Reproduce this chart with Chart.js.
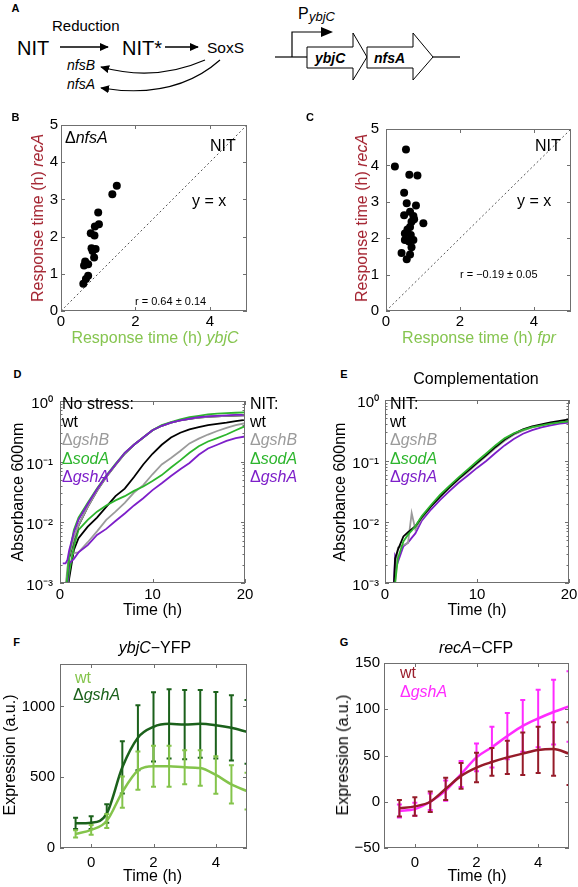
<!DOCTYPE html>
<html>
<head>
<meta charset="utf-8">
<script src="https://cdn.jsdelivr.net/npm/chart.js@4.4.1/dist/chart.umd.min.js"></script>
<style>
  body { margin: 0; width: 578px; height: 887px; background: #fff; position: relative; overflow: hidden;
         font-family: "Liberation Sans", Arial, sans-serif; color: #000; }
  canvas { position: absolute; }
  .t { position: absolute; white-space: nowrap; line-height: 1; font-size: 16px; }
  .c { transform: translate(-50%, -50%); }
  .l { transform: translateY(-50%); }
  .r { transform: translate(-50%, -50%) rotate(-90deg); }
  .k { font-weight: bold; font-size: 11px; }
  .sm { font-size: 11px; }
  .clipbox { position: absolute; overflow: hidden; }
</style>
</head>
<body>

<!-- panel A: schematic -->
<svg width="578" height="110" style="position:absolute;left:0;top:0" font-family="Liberation Sans, Arial, sans-serif">
  <defs>
    <marker id="ah" viewBox="0 0 10 10" refX="9" refY="5" markerWidth="9" markerHeight="9"
            markerUnits="userSpaceOnUse" orient="auto">
      <path d="M0,0.5 L10,5 L0,9.5 z" fill="#000"/>
    </marker>
  </defs>
  <text x="52" y="31" font-size="15">Reduction</text>
  <text x="17" y="55" font-size="20">NIT</text>
  <line x1="60" y1="47" x2="108" y2="47" stroke="#000" stroke-width="1.3" marker-end="url(#ah)"/>
  <text x="122" y="55" font-size="20">NIT*</text>
  <line x1="165" y1="47" x2="198" y2="47" stroke="#000" stroke-width="1.3" marker-end="url(#ah)"/>
  <text x="207" y="53" font-size="15.5">SoxS</text>
  <text x="67" y="70" font-size="14" font-style="italic">nfsB</text>
  <text x="67" y="89" font-size="14" font-style="italic">nfsA</text>
  <path d="M205,60 Q155,82 101,67" fill="none" stroke="#000" stroke-width="1.2" marker-end="url(#ah)"/>
  <path d="M220,60 Q175,100 101,88" fill="none" stroke="#000" stroke-width="1.2" marker-end="url(#ah)"/>

  <line x1="275" y1="57" x2="307" y2="57" stroke="#000" stroke-width="1.2"/>
  <line x1="433" y1="57" x2="460" y2="57" stroke="#000" stroke-width="1.2"/>
  <polyline points="292,57 292,32 322,32" fill="none" stroke="#000" stroke-width="1.2"/>
  <polygon points="321,27 333,32 321,37" fill="#000"/>
  <text x="298" y="19" font-size="16">P</text>
  <text x="309" y="21" font-size="13" font-style="italic">ybjC</text>
  <polygon points="307,47 353,47 353,33 367,57 353,80 353,68 307,68" fill="#fff" stroke="#000" stroke-width="1"/>
  <polygon points="367,47 413,47 413,33 433,57 413,80 413,68 367,68" fill="#fff" stroke="#000" stroke-width="1"/>
  <text x="315" y="63" font-size="14" font-style="italic" font-weight="bold">ybjC</text>
  <text x="374" y="63" font-size="14" font-style="italic" font-weight="bold">nfsA</text>
</svg>

<canvas id="chartB"></canvas>
<canvas id="chartC"></canvas>
<canvas id="chartD"></canvas>
<canvas id="chartE"></canvas>
<canvas id="chartF"></canvas>
<canvas id="chartG"></canvas>

<!-- panel letters -->
<div class="t c k" style="left:15.5px;top:8px">A</div>
<div class="t c k" style="left:15.5px;top:116.5px">B</div>
<div class="t c k" style="left:310px;top:116.5px">C</div>
<div class="t c k" style="left:17.5px;top:374px">D</div>
<div class="t c k" style="left:344px;top:374px">E</div>
<div class="t c k" style="left:16.5px;top:641.5px">F</div>
<div class="t c k" style="left:344px;top:641.5px">G</div>

<!-- B -->
<div class="t l" style="left:65px;top:137.5px">Δ<i>nfsA</i></div>
<div class="t l" style="left:210px;top:146px">NIT</div>
<div class="t l" style="left:192px;top:201px">y = x</div>
<div class="t l sm" style="left:135px;top:301px">r = 0.64 ± 0.14</div>
<div class="t c" style="left:155px;top:338px;color:#86c550">Response time (h) <i>ybjC</i></div>
<div class="t r" style="left:38px;top:218px;color:#a3222f">Response time (h) <i>recA</i></div>

<!-- C -->
<div class="t l" style="left:535px;top:146px">NIT</div>
<div class="t l" style="left:517px;top:201px">y = x</div>
<div class="t l sm" style="left:460px;top:274px">r = −0.19 ± 0.05</div>
<div class="t c" style="left:479px;top:338px;color:#86c550">Response time (h) <i>fpr</i></div>
<div class="t r" style="left:362px;top:218px;color:#a3222f">Response time (h) <i>recA</i></div>

<!-- D -->
<div class="t l" style="left:62px;top:404px">No stress:</div>
<div class="t l" style="left:62px;top:422px">wt</div>
<div class="t l" style="left:62px;top:440px;color:#9b9b9b">Δ<i>gshB</i></div>
<div class="t l" style="left:62px;top:458.5px;color:#2db52d">Δ<i>sodA</i></div>
<div class="t l" style="left:62px;top:477px;color:#7d1fc9">Δ<i>gshA</i></div>
<div class="clipbox" style="left:250px;top:390px;width:47px;height:100px">
  <div class="t l" style="left:0;top:14px">NIT:</div>
  <div class="t l" style="left:0;top:32px">wt</div>
  <div class="t l" style="left:0;top:50px;color:#9b9b9b">Δ<i>gshB</i></div>
  <div class="t l" style="left:0;top:68.5px;color:#2db52d">Δ<i>sodA</i></div>
  <div class="t l" style="left:0;top:87px;color:#7d1fc9">Δ<i>gshA</i></div>
</div>
<div class="t r" style="left:18px;top:492px">Absorbance 600nm</div>
<div class="t c" style="left:152.5px;top:609.5px">Time (h)</div>

<!-- E -->
<div class="t c" style="left:476px;top:379px">Complementation</div>
<div class="t l" style="left:390px;top:404px">NIT:</div>
<div class="t l" style="left:390px;top:422px">wt</div>
<div class="t l" style="left:390px;top:440px;color:#9b9b9b">Δ<i>gshB</i></div>
<div class="t l" style="left:390px;top:458.5px;color:#2db52d">Δ<i>sodA</i></div>
<div class="t l" style="left:390px;top:477px;color:#7d1fc9">Δ<i>gshA</i></div>
<div class="t r" style="left:340px;top:492px">Absorbance 600nm</div>
<div class="t c" style="left:477px;top:609.5px">Time (h)</div>

<!-- F -->
<div class="t c" style="left:155px;top:648px"><i>ybjC</i>−YFP</div>
<div class="t l" style="left:75px;top:677.5px;color:#84c44b">wt</div>
<div class="t l" style="left:73px;top:695px;color:#1b611b">Δ<i>gshA</i></div>
<div class="t r" style="left:10px;top:755px">Expression (a.u.)</div>
<div class="t c" style="left:152.5px;top:876px">Time (h)</div>

<!-- G -->
<div class="t c" style="left:476px;top:648px"><i>recA</i>−CFP</div>
<div class="t l" style="left:400px;top:673px;color:#9a1d2b">wt</div>
<div class="t l" style="left:400px;top:692px;color:#ff2bff">Δ<i>gshA</i></div>
<div class="t r" style="left:342.5px;top:755px">Expression (a.u.)</div>
<div class="t c" style="left:477px;top:876px">Time (h)</div>

<script>
// ---------- data ----------
// B: ΔnfsA, response times (h)
const nfsAYbjC = [1.50, 1.38, 1.00, 1.02, 0.91, 0.80, 0.90, 0.82, 0.93, 0.85, 0.89, 0.65, 0.73, 0.62, 0.73, 0.67, 0.60];
const nfsARecA = [3.37, 3.14, 2.65, 2.33, 2.27, 2.09, 2.03, 1.69, 1.67, 1.61, 1.44, 1.33, 1.26, 1.22, 0.95, 0.86, 0.73];
// C: fpr vs recA
const fprTime  = [0.54, 0.24, 0.63, 0.85, 0.49, 0.56, 0.81, 0.65, 0.49, 0.74, 0.76, 0.69, 1.01, 0.65, 0.58, 0.51, 0.67, 0.51, 0.74, 0.62, 0.69, 0.42, 0.65, 0.56];
const fprRecA  = [4.44, 3.97, 3.74, 3.72, 3.25, 2.96, 2.90, 2.73, 2.63, 2.61, 2.52, 2.45, 2.41, 2.31, 2.24, 2.13, 2.09, 1.95, 1.95, 1.91, 1.75, 1.59, 1.55, 1.42];
const diagLine = [0, 5];
const respYTicks = [0, 1, 2, 3, 4, 5];
const respXTicks = [0, 2, 4];

// D: growth curves, absorbance 600nm
const tD = [0.3, 0.6, 0.8, 1, 1.5, 2, 3, 4, 5, 6, 7, 8, 9, 10, 11, 12, 13, 14, 15, 16, 17, 18, 19, 20];
const noStressWt   = [0.0005, 0.0007, 0.0013, 0.0026, 0.0052, 0.0088, 0.018, 0.033, 0.056, 0.088, 0.135, 0.19, 0.25, 0.33, 0.39, 0.44, 0.48, 0.51, 0.53, 0.55, 0.56, 0.57, 0.575, 0.58];
const noStressGshB = [0.0005, 0.0008, 0.0015, 0.0028, 0.0055, 0.009, 0.018, 0.033, 0.056, 0.088, 0.135, 0.19, 0.25, 0.33, 0.39, 0.44, 0.48, 0.51, 0.53, 0.55, 0.56, 0.57, 0.58, 0.58];
const noStressSodA = [0.0005, 0.0007, 0.0013, 0.003, 0.0075, 0.012, 0.021, 0.036, 0.059, 0.092, 0.14, 0.19, 0.25, 0.33, 0.4, 0.45, 0.5, 0.54, 0.57, 0.6, 0.62, 0.63, 0.64, 0.65];
const noStressGshA = [0.0021, 0.0021, 0.0024, 0.0035, 0.0068, 0.011, 0.02, 0.035, 0.058, 0.09, 0.14, 0.19, 0.25, 0.33, 0.39, 0.44, 0.48, 0.51, 0.54, 0.56, 0.57, 0.58, 0.59, 0.59];
const nitWt   = [0.0004, 0.0005, 0.0007, 0.0012, 0.0035, 0.0055, 0.0085, 0.012, 0.018, 0.027, 0.036, 0.056, 0.09, 0.135, 0.19, 0.25, 0.3, 0.34, 0.37, 0.4, 0.42, 0.44, 0.465, 0.49];
const nitGshB = [0.0004, 0.0008, 0.0018, 0.0028, 0.0031, 0.0032, 0.0047, 0.0071, 0.011, 0.015, 0.021, 0.031, 0.041, 0.062, 0.09, 0.115, 0.15, 0.2, 0.24, 0.28, 0.32, 0.36, 0.4, 0.43];
const nitSodA = [0.0004, 0.0005, 0.0008, 0.0015, 0.004, 0.0075, 0.011, 0.015, 0.019, 0.023, 0.027, 0.033, 0.039, 0.048, 0.06, 0.08, 0.105, 0.14, 0.18, 0.215, 0.245, 0.28, 0.33, 0.385];
const nitGshA = [0.0004, 0.0005, 0.0009, 0.0021, 0.0025, 0.0032, 0.0042, 0.0062, 0.0078, 0.0105, 0.014, 0.019, 0.025, 0.034, 0.044, 0.058, 0.075, 0.095, 0.13, 0.165, 0.19, 0.22, 0.245, 0.26];

// E: complementation under NIT
const tE = [0.9, 1.1, 1.4, 2, 2.5, 2.9, 3.3, 4, 5, 6, 7, 8, 9, 10, 11, 12, 13, 14, 15, 16, 17, 18, 19, 20];
const compWt   = [0.0005, 0.0025, 0.0035, 0.0058, 0.0068, 0.0076, 0.0085, 0.012, 0.018, 0.026, 0.037, 0.051, 0.069, 0.093, 0.125, 0.17, 0.225, 0.28, 0.33, 0.37, 0.4, 0.43, 0.455, 0.48];
const compGshB = [0.0004, 0.001, 0.0038, 0.0042, 0.0045, 0.014, 0.0075, 0.0115, 0.018, 0.026, 0.036, 0.05, 0.066, 0.09, 0.12, 0.163, 0.215, 0.27, 0.315, 0.355, 0.385, 0.41, 0.435, 0.455];
const compSodA = [0.0004, 0.001, 0.0025, 0.0048, 0.0062, 0.0072, 0.0085, 0.0125, 0.019, 0.028, 0.039, 0.054, 0.073, 0.099, 0.133, 0.18, 0.235, 0.285, 0.325, 0.36, 0.385, 0.41, 0.43, 0.445];
const compGshA = [0.0006, 0.0028, 0.0022, 0.004, 0.0046, 0.0055, 0.0065, 0.0105, 0.016, 0.023, 0.032, 0.044, 0.058, 0.077, 0.1, 0.135, 0.18, 0.23, 0.28, 0.32, 0.355, 0.385, 0.41, 0.425];
const logTicks = [0.001, 0.01, 0.1, 1];
const logLabels = ['10⁻³', '10⁻²', '10⁻¹', '10⁰'];
const growthXTicks = [0, 10, 20];

// F, G: reporter expression (a.u.)
const tExpr = [-0.5, 0, 0.5, 1, 1.5, 2, 2.5, 3, 3.5, 4, 4.5, 5];
const ybjcWt      = [100, 128, 191, 395, 547, 577, 577, 570, 565, 516, 449, 402];
const ybjcWtErr   = [25, 35, 50, 110, 135, 145, 145, 120, 125, 133, 135, 130];
const ybjcGshA    = [174, 179, 244, 570, 779, 856, 877, 872, 877, 867, 849, 821];
const ybjcGshAErr = [40, 45, 65, 185, 230, 245, 245, 245, 240, 235, 230, 225];
const recaWt      = [-7, -5, 0, 14, 28, 37, 43, 48, 52, 56, 57, 52];
const recaWtErr   = [9, 10, 11, 12, 14, 16, 15, 18, 23, 25, 29, 34];
const recaGshA    = [-10, -8, 0, 12, 30, 48, 59, 71, 82, 90, 97, 103];
const recaGshAErr = [7, 7, 9, 11, 14, 15, 22, 25, 28, 31, 35, 38];
const exprXTicks = [0, 2, 4];
const ybjcYTicks = [0, 500, 1000];
const recaYTicks = [-50, 0, 50, 100, 150];

// ---------- helpers ----------
const FONT = '"Liberation Sans", Arial, sans-serif';
const PAD = 12;
const C = {
  black: '#000000', grey: '#9b9b9b', green: '#2db52d', purple: '#7d1fc9',
  light: '#84c44b', dark: '#1b611b', maroon: '#961b29', magenta: '#ff2bff'
};

const xy = (xs, ys) => xs.map((x, i) => ({ x, y: ys[i] }));
const num = v => v < 0 ? '−' + (-v) : String(v);

// box outline with inward ticks on all four sides (matlab style)
const boxFrame = {
  id: 'boxFrame',
  afterDatasetsDraw(chart) {
    const { ctx, chartArea: a, scales } = chart;
    ctx.save();
    ctx.strokeStyle = '#6f6f6f';
    ctx.lineWidth = 1;
    ctx.strokeRect(a.left + 0.5, a.top + 0.5, a.right - a.left - 1, a.bottom - a.top - 1);
    ctx.beginPath();
    scales.x.ticks.forEach(t => {
      const p = Math.round(scales.x.getPixelForValue(t.value)) + 0.5;
      ctx.moveTo(p, a.bottom); ctx.lineTo(p, a.bottom - 4);
      ctx.moveTo(p, a.top); ctx.lineTo(p, a.top + 4);
    });
    const yt = scales.y.ticks.map(t => ({ v: t.value, len: 4 }));
    if (scales.y.type === 'logarithmic') {
      logTicks.slice(0, -1).forEach(d => {
        for (let m = 2; m < 10; m++) yt.push({ v: d * m, len: 2.5 });
      });
    }
    yt.forEach(t => {
      const p = Math.round(scales.y.getPixelForValue(t.v)) + 0.5;
      ctx.moveTo(a.left, p); ctx.lineTo(a.left + t.len, p);
      ctx.moveTo(a.right, p); ctx.lineTo(a.right - t.len, p);
    });
    ctx.stroke();
    ctx.restore();
  }
};

// vertical error bars with small caps
const errorBars = {
  id: 'errorBars',
  afterDatasetDraw(chart, args) {
    const ds = chart.data.datasets[args.index];
    if (!ds.errs) return;
    const { ctx, chartArea: a } = chart;
    const ys = chart.scales.y;
    ctx.save();
    ctx.beginPath();
    ctx.rect(a.left, a.top, a.right - a.left, a.bottom - a.top);
    ctx.clip();
    ctx.strokeStyle = ds.borderColor;
    ctx.lineWidth = 2;
    ctx.beginPath();
    args.meta.data.forEach((pt, j) => {
      const v = ds.data[j].y, e = ds.errs[j];
      const top = ys.getPixelForValue(v + e), bot = ys.getPixelForValue(v - e);
      ctx.moveTo(pt.x, top); ctx.lineTo(pt.x, bot);
      ctx.moveTo(pt.x - 2.5, top); ctx.lineTo(pt.x + 2.5, top);
      ctx.moveTo(pt.x - 2.5, bot); ctx.lineTo(pt.x + 2.5, bot);
    });
    ctx.stroke();
    ctx.restore();
  }
};

function axis(min, max, ticks, padding, extra) {
  return Object.assign({
    type: 'linear', min, max,
    grid: { display: false, drawTicks: false },
    border: { display: false },
    afterBuildTicks: s => { s.ticks = ticks.map(v => ({ value: v })); },
    ticks: {
      color: '#000', font: { size: 15, family: FONT }, padding,
      maxRotation: 0, autoSkip: false, callback: v => num(v)
    }
  }, extra || {});
}

function makeChart(id, plot, yw, xh, type, datasets, scales, plugins) {
  const cv = document.getElementById(id);
  cv.width = plot.w + yw + PAD;
  cv.height = plot.h + PAD + xh;
  cv.style.left = (plot.l - yw) + 'px';
  cv.style.top = (plot.t - PAD) + 'px';
  scales.y.afterFit = s => { s.width = yw; };
  scales.x.afterFit = s => { s.height = xh; };
  return new Chart(cv, {
    type,
    data: { datasets },
    options: {
      responsive: false, animation: false, devicePixelRatio: 1,
      layout: { padding: { top: PAD, right: PAD, left: 0, bottom: 0 } },
      plugins: { legend: { display: false }, tooltip: { enabled: false } },
      scales
    },
    plugins: [boxFrame, errorBars].concat(plugins || [])
  });
}

// ---------- B & C: scatter ----------
function scatterSets(xs, ys) {
  return [
    { data: xy(xs, ys), backgroundColor: '#000', borderColor: '#000', pointRadius: 4, pointBorderWidth: 0 },
    { data: xy(diagLine, diagLine), showLine: true, borderColor: '#555', borderWidth: 1,
      borderDash: [2, 2.5], pointRadius: 0 }
  ];
}
makeChart('chartB', { l: 61, t: 125, w: 186, h: 186 }, 58, 22, 'scatter',
  scatterSets(nfsAYbjC, nfsARecA),
  { x: axis(0, 5, respXTicks, 2), y: axis(0, 5, respYTicks, 3) });
makeChart('chartC', { l: 386, t: 125, w: 185, h: 186 }, 50, 22, 'scatter',
  scatterSets(fprTime, fprRecA),
  { x: axis(0, 5, respXTicks, 2), y: axis(0, 5, respYTicks, 7) });

// ---------- D & E: growth curves ----------
function growth(ts, ys, color) {
  return { data: xy(ts, ys), borderColor: color, borderWidth: 1.8, pointRadius: 0, tension: 0, fill: false };
}
function logAxis(padding) {
  const a = axis(0.001, 1, logTicks, padding);
  a.type = 'logarithmic';
  a.ticks.callback = v => logLabels[logTicks.indexOf(v)];
  a.ticks.labelOffset = 3;
  return a;
}
makeChart('chartD', { l: 60, t: 397, w: 185, h: 186 }, 58, 22, 'line', [
  growth(tD, noStressGshA, C.purple),
  growth(tD, noStressSodA, C.green),
  growth(tD, noStressGshB, C.grey),
  growth(tD, noStressWt, C.black),
  growth(tD, nitGshA, C.purple),
  growth(tD, nitSodA, C.green),
  growth(tD, nitGshB, C.grey),
  growth(tD, nitWt, C.black)
], { x: axis(0, 20, growthXTicks, 3), y: logAxis(7) });

makeChart('chartE', { l: 385, t: 397, w: 184, h: 186 }, 55, 22, 'line', [
  growth(tE, compSodA, C.green),
  growth(tE, compWt, C.black),
  growth(tE, compGshB, C.grey),
  growth(tE, compGshA, C.purple)
], { x: axis(0, 20, growthXTicks, 3), y: logAxis(6) });

// ---------- F & G: expression with error bars ----------
function expr(ys, errs, color) {
  return { data: xy(tExpr, ys), errs, borderColor: color, borderWidth: 2.5, pointRadius: 0,
           tension: 0.35, cubicInterpolationMode: 'monotone', fill: false };
}
makeChart('chartF', { l: 60, t: 662, w: 187, h: 186 }, 58, 24, 'line', [
  expr(ybjcWt, ybjcWtErr, C.light),
  expr(ybjcGshA, ybjcGshAErr, C.dark)
], { x: axis(-1, 5, exprXTicks, 6), y: axis(0, 1300, ybjcYTicks, 5) });

makeChart('chartG', { l: 384, t: 662, w: 185, h: 186 }, 50, 24, 'line', [
  expr(recaWt, recaWtErr, C.maroon),
  expr(recaGshA, recaGshAErr, C.magenta)
], { x: axis(-1, 5, exprXTicks, 6), y: axis(-50, 150, recaYTicks, 4) });
</script>
</body>
</html>
